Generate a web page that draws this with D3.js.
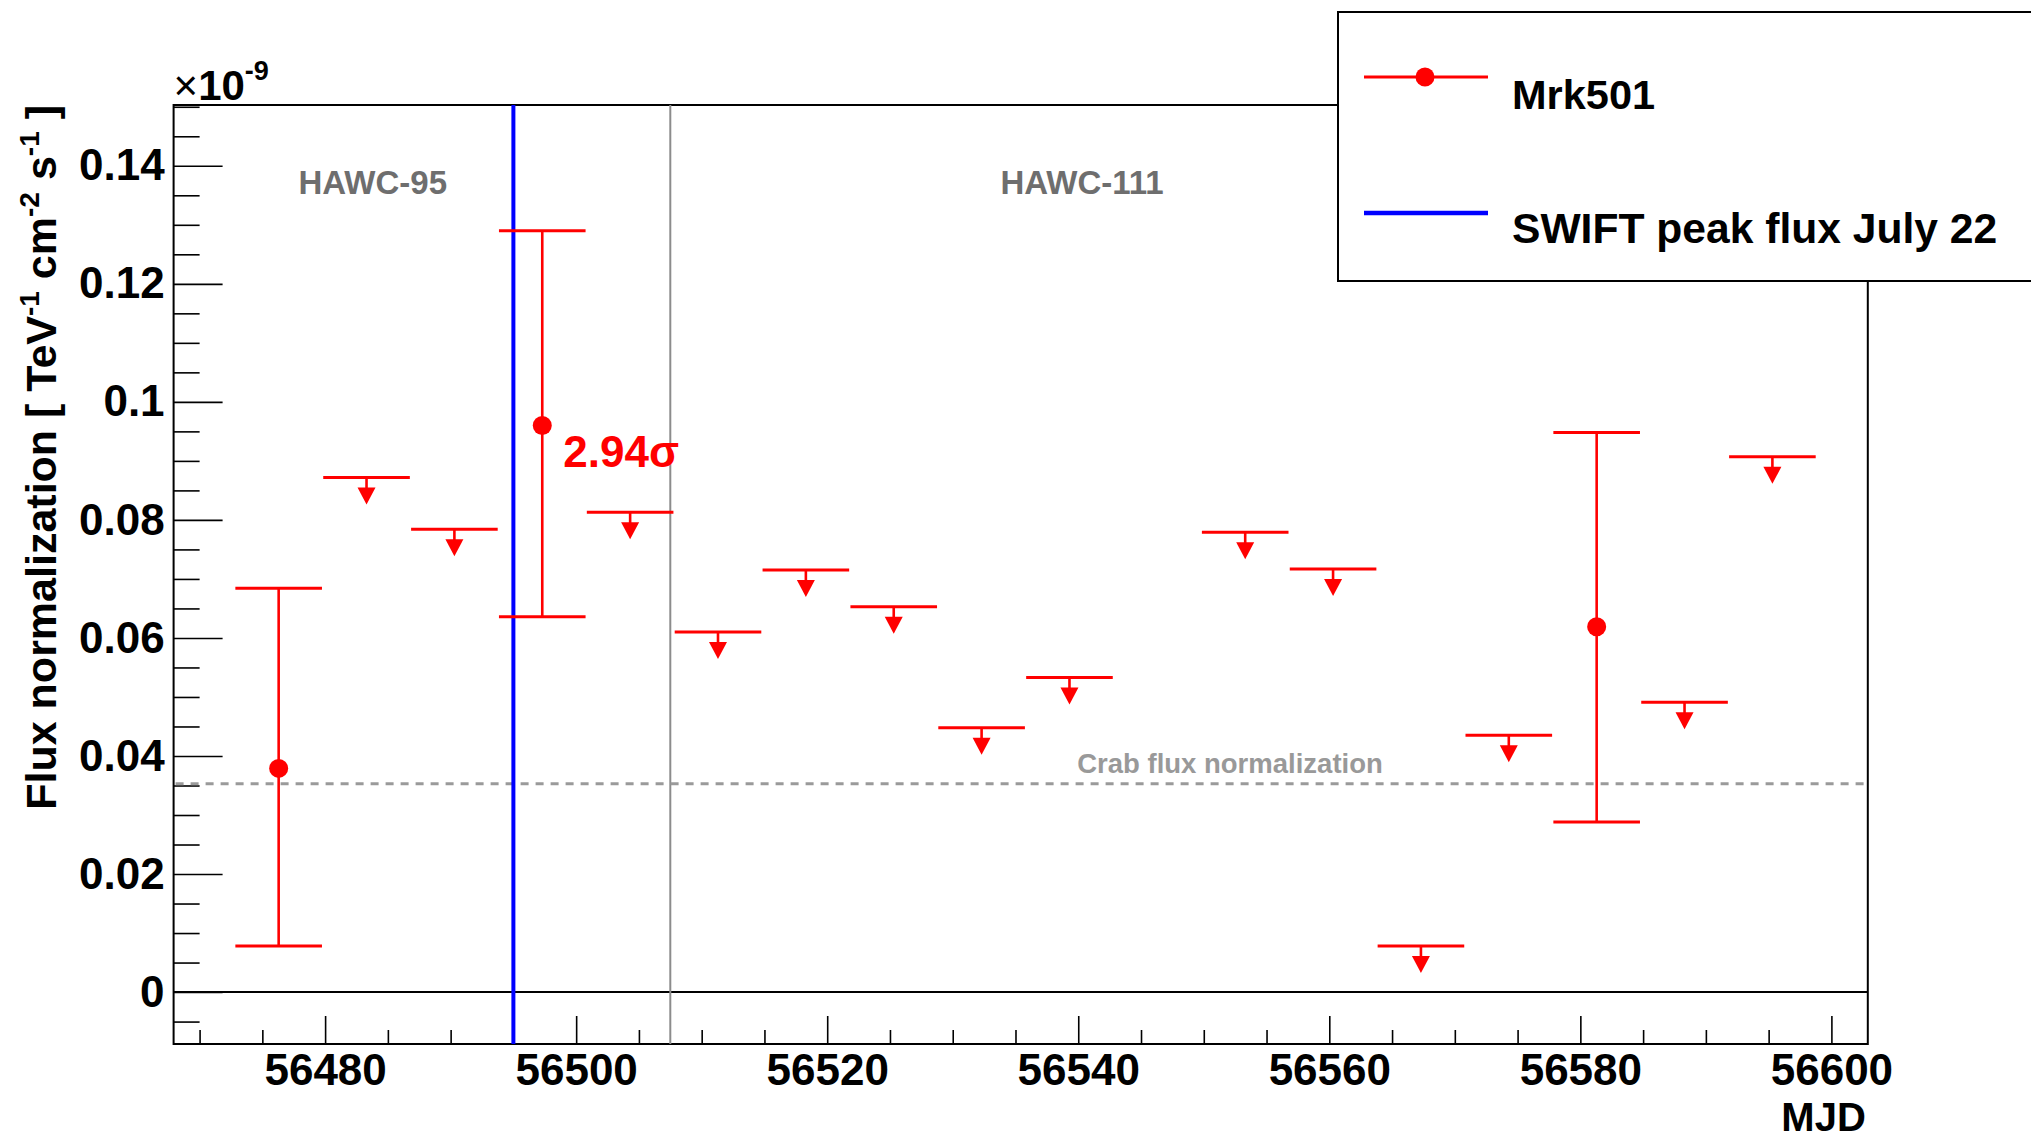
<!DOCTYPE html>
<html>
<head>
<meta charset="utf-8">
<script src="https://cdn.jsdelivr.net/npm/d3@7"></script>
<style>
  html, body { margin: 0; padding: 0; background: #fff; }
  svg { display: block; }
  text { font-family: "Liberation Sans", Arial, Helvetica, sans-serif; }
</style>
</head>
<body>
<svg id="chart" width="2031" height="1138"></svg>
<script>
// Mrk501 weekly light curve (flux normalization in units of 1e-9 TeV^-1 cm^-2 s^-1)
const detectionMJD  = [56476.3, 56497.3, 56581.3];
const detectionFlux = [0.0379, 0.0960, 0.0619];
const detectionLow  = [0.0078, 0.0636, 0.0288];
const detectionHigh = [0.0684, 0.1290, 0.0948];
const detectionSignificance = ["", "2.94σ", ""];

const upperLimitMJD  = [56483.3, 56490.3, 56504.3, 56511.3, 56518.3, 56525.3, 56532.3,
                        56539.3, 56553.3, 56560.3, 56567.3, 56574.3, 56588.3, 56595.3];
const upperLimitFlux = [0.0872, 0.0784, 0.0813, 0.0610, 0.0715, 0.0653, 0.0448,
                        0.0533, 0.0779, 0.0717, 0.0078, 0.0435, 0.0491, 0.0907];

const binHalfWidth = 3.45;          // days, half of each weekly bin
const swiftPeakMJD = 56495;         // SWIFT peak flux, July 22
const configChangeMJD = 56507.5;    // HAWC-95 -> HAWC-111
const crabFlux = 0.0353;

const periodLabels = [
  { text: "HAWC-95",  mjd: 56483.8 },
  { text: "HAWC-111", mjd: 56540.3 }
];

const xMajorTicks = [56480, 56500, 56520, 56540, 56560, 56580, 56600];
const yMajorTicks = [0, 0.02, 0.04, 0.06, 0.08, 0.1, 0.12, 0.14];

const legendEntries = [
  { label: "Mrk501", kind: "point" },
  { label: "SWIFT peak flux July 22", kind: "line" }
];

// ---- layout ----
const plot = { left: 173.6, right: 1867.8, top: 105, bottom: 1044 };
const RED = "#ff0000", BLUE = "#0000ff";

const svg = d3.select("#chart");
const x = d3.scaleLinear().domain([56467.93, 56602.9]).range([plot.left, plot.right]);
const y = d3.scaleLinear().domain([-0.0088, 0.1503]).range([plot.bottom, plot.top]);

// minor tick values
const xMinorTicks = d3.range(56470, 56601, 5).filter(v => !xMajorTicks.includes(v));
const yMinorTicks = d3.range(-0.005, 0.1501, 0.005)
  .map(v => +v.toFixed(3))
  .filter(v => !yMajorTicks.some(t => Math.abs(t - v) < 1e-6));

// ---- axes ----
const yFmt = d => d === 0 ? "0" : String(+d.toFixed(2));

const yAxisMajor = svg.append("g")
  .attr("transform", `translate(${plot.left},0)`)
  .call(d3.axisLeft(y).tickValues(yMajorTicks).tickFormat(yFmt)
        .tickSizeInner(-49).tickSizeOuter(0).tickPadding(9));
const yAxisMinor = svg.append("g")
  .attr("transform", `translate(${plot.left},0)`)
  .call(d3.axisLeft(y).tickValues(yMinorTicks).tickFormat("")
        .tickSizeInner(-26).tickSizeOuter(0));

const xAxisMajor = svg.append("g")
  .attr("transform", `translate(0,${plot.bottom})`)
  .call(d3.axisBottom(x).tickValues(xMajorTicks).tickFormat(d3.format("d"))
        .tickSizeInner(-28).tickSizeOuter(0).tickPadding(10));
const xAxisMinor = svg.append("g")
  .attr("transform", `translate(0,${plot.bottom})`)
  .call(d3.axisBottom(x).tickValues(xMinorTicks).tickFormat("")
        .tickSizeInner(-14).tickSizeOuter(0));

[yAxisMajor, yAxisMinor, xAxisMajor, xAxisMinor].forEach(g => {
  g.select(".domain").remove();
  g.selectAll(".tick line").attr("stroke", "#000").attr("stroke-width", 1.6);
  g.selectAll(".tick text")
    .attr("fill", "#000")
    .attr("font-size", 44)
    .attr("font-weight", "bold")
    .attr("font-family", '"Liberation Sans", Arial, sans-serif');
});

// frame
svg.append("rect")
  .attr("x", plot.left).attr("y", plot.top)
  .attr("width", plot.right - plot.left).attr("height", plot.bottom - plot.top)
  .attr("fill", "none").attr("stroke", "#000").attr("stroke-width", 2);

// zero line
svg.append("line")
  .attr("x1", plot.left).attr("x2", plot.right)
  .attr("y1", y(0)).attr("y2", y(0))
  .attr("stroke", "#000").attr("stroke-width", 2);

// axis titles
svg.append("text")
  .attr("x", plot.right - 2).attr("y", 1131)
  .attr("text-anchor", "end")
  .attr("font-size", 40).attr("font-weight", "bold")
  .text("MJD");

const yTitle = svg.append("text")
  .attr("transform", `translate(56,${plot.top}) rotate(-90)`)
  .attr("text-anchor", "end")
  .attr("font-size", 43).attr("font-weight", "bold");
[
  ["Flux normalization [ TeV", 0, 43],
  ["-1", -17, 28],
  [" cm", 17, 43],
  ["-2", -17, 28],
  [" s", 17, 43],
  ["-1", -17, 28],
  [" ]", 17, 43]
].forEach(([t, dy, fs]) => {
  yTitle.append("tspan").attr("dy", dy).attr("font-size", fs).text(t);
});

// exponent label
const expo = svg.append("text").attr("x", plot.left).attr("y", 100).attr("font-size", 42);
expo.append("tspan").attr("font-weight", "normal").text("×");
expo.append("tspan").attr("font-weight", "bold").text("10");
expo.append("tspan").attr("font-weight", "bold").attr("font-size", 27).attr("dy", -20).text("-9");

// ---- reference lines ----
svg.append("line")
  .attr("x1", x(configChangeMJD)).attr("x2", x(configChangeMJD))
  .attr("y1", plot.top).attr("y2", plot.bottom)
  .attr("stroke", "#8c8c8c").attr("stroke-width", 2);

svg.append("line")
  .attr("x1", plot.left + 2).attr("x2", plot.right - 2)
  .attr("y1", y(crabFlux)).attr("y2", y(crabFlux))
  .attr("stroke", "#9a9a9a").attr("stroke-width", 3)
  .attr("stroke-dasharray", "8,7");

svg.append("text")
  .attr("x", 1230).attr("y", 773)
  .attr("text-anchor", "middle")
  .attr("font-size", 27.5).attr("font-weight", "bold").attr("fill", "#999")
  .text("Crab flux normalization");

svg.selectAll("text.period")
  .data(periodLabels).enter().append("text")
  .attr("class", "period")
  .attr("x", d => x(d.mjd)).attr("y", 194)
  .attr("text-anchor", "middle")
  .attr("font-size", 33).attr("font-weight", "bold").attr("fill", "#6e6e6e")
  .text(d => d.text);

svg.append("line")
  .attr("x1", x(swiftPeakMJD)).attr("x2", x(swiftPeakMJD))
  .attr("y1", plot.top).attr("y2", plot.bottom)
  .attr("stroke", BLUE).attr("stroke-width", 4);

// ---- upper limits ----
const ulData = upperLimitMJD.map((m, i) => ({ m, v: upperLimitFlux[i] }));
const ul = svg.append("g").selectAll("g").data(ulData).enter().append("g");
ul.append("line")
  .attr("x1", d => x(d.m - binHalfWidth)).attr("x2", d => x(d.m + binHalfWidth))
  .attr("y1", d => y(d.v)).attr("y2", d => y(d.v))
  .attr("stroke", RED).attr("stroke-width", 3);
ul.append("line")
  .attr("x1", d => x(d.m)).attr("x2", d => x(d.m))
  .attr("y1", d => y(d.v)).attr("y2", d => y(d.v) + 11)
  .attr("stroke", RED).attr("stroke-width", 2.6);
ul.append("path")
  .attr("d", d => {
    const cx = x(d.m), cy = y(d.v);
    return `M${cx - 9},${cy + 10}L${cx + 9},${cy + 10}L${cx},${cy + 27}Z`;
  })
  .attr("fill", RED);

// ---- detections with error bars ----
const detData = detectionMJD.map((m, i) => ({
  m, v: detectionFlux[i], lo: detectionLow[i], hi: detectionHigh[i], sig: detectionSignificance[i]
}));
const det = svg.append("g").selectAll("g").data(detData).enter().append("g");
det.append("line")
  .attr("x1", d => x(d.m)).attr("x2", d => x(d.m))
  .attr("y1", d => y(d.lo)).attr("y2", d => y(d.hi))
  .attr("stroke", RED).attr("stroke-width", 2.6);
["lo", "hi"].forEach(k => {
  det.append("line")
    .attr("x1", d => x(d.m - binHalfWidth)).attr("x2", d => x(d.m + binHalfWidth))
    .attr("y1", d => y(d[k])).attr("y2", d => y(d[k]))
    .attr("stroke", RED).attr("stroke-width", 3);
});
det.append("circle")
  .attr("cx", d => x(d.m)).attr("cy", d => y(d.v)).attr("r", 9.5)
  .attr("fill", RED);
det.filter(d => d.sig).append("text")
  .attr("x", d => x(d.m) + 21).attr("y", d => y(d.v) + 42)
  .attr("font-size", 44).attr("font-weight", "bold").attr("fill", RED)
  .text(d => d.sig);

// ---- legend ----
const legend = svg.append("g");
legend.append("rect")
  .attr("x", 1338).attr("y", 12).attr("width", 760).attr("height", 269)
  .attr("fill", "#fff").attr("stroke", "#000").attr("stroke-width", 2);
const legendRowY = [77, 213];
const legendFontSize = [41.5, 42.6];
const le = legend.selectAll("g").data(legendEntries).enter().append("g")
  .attr("transform", (d, i) => `translate(0,${legendRowY[i]})`);
le.append("line")
  .attr("x1", 1364).attr("x2", 1488).attr("y1", 0).attr("y2", 0)
  .attr("stroke", d => d.kind === "point" ? RED : BLUE)
  .attr("stroke-width", d => d.kind === "point" ? 3 : 4.5);
le.filter(d => d.kind === "point").append("circle")
  .attr("cx", 1425).attr("cy", 0).attr("r", 9.5).attr("fill", RED);
le.append("text")
  .attr("x", 1512).attr("y", (d, i) => i === 0 ? 32 : 30)
  .attr("font-size", (d, i) => legendFontSize[i]).attr("font-weight", "bold")
  .text(d => d.label);
</script>
</body>
</html>
